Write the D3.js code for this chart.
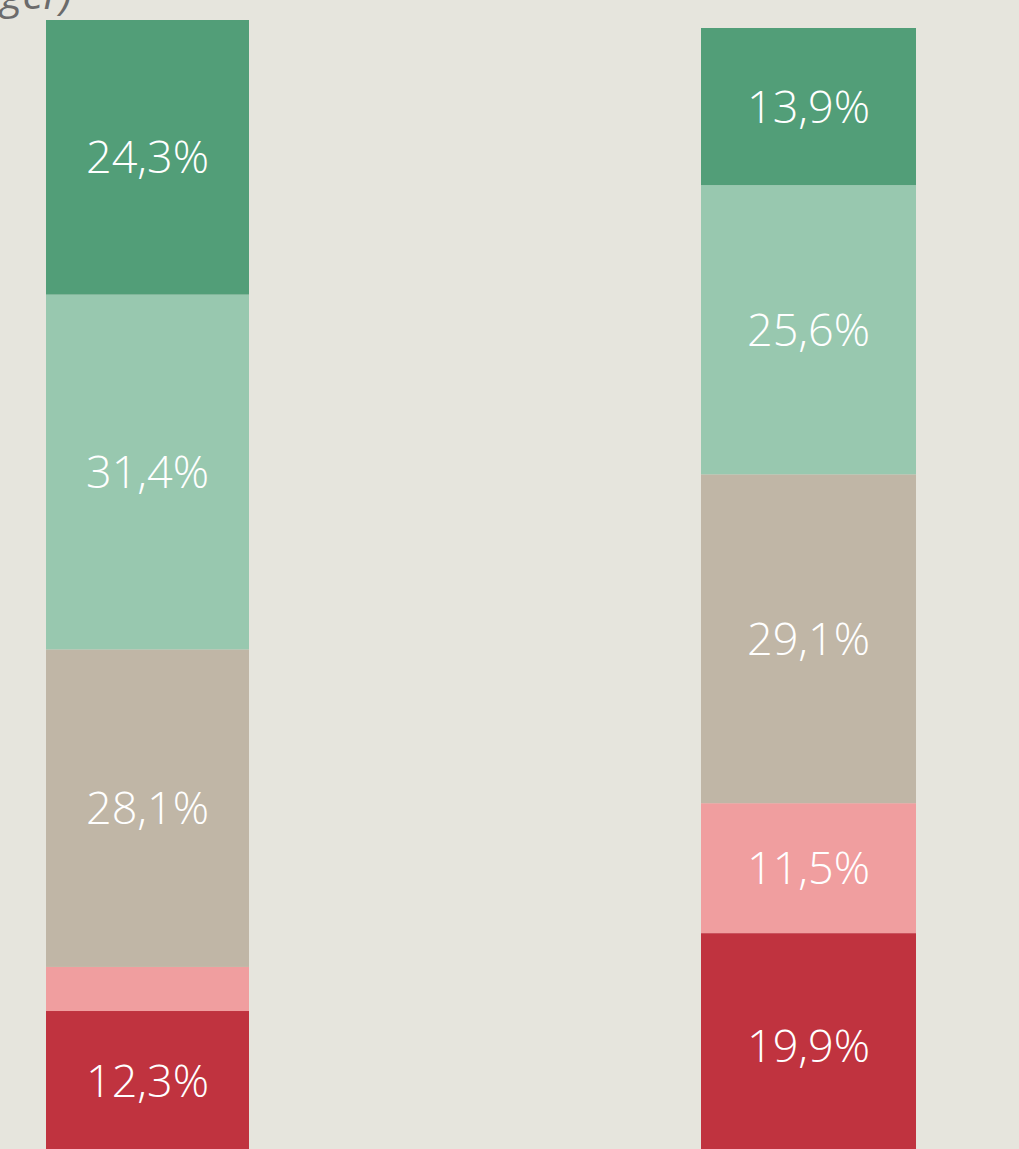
<!DOCTYPE html>
<html>
<head>
<meta charset="utf-8">
<script src="https://cdn.jsdelivr.net/npm/d3@7"></script>
<style>
  html, body { margin: 0; padding: 0; background: #e6e5dd; overflow: hidden; }
  svg { display: block; }
</style>
</head>
<body>
<svg width="1019" height="1149"></svg>
<script>
// data, bottom to top
var groups = ["A", "B"];
var segments = ["s1", "s2", "s3", "s4", "s5"];
var valuesA = [12.3, 3.9, 28.1, 31.4, 24.3];
var valuesB = [19.9, 11.5, 29.1, 25.6, 13.9];
var colors = ["#c0333f", "#f09e9f", "#c0b6a6", "#98c8af", "#529e78"];

var svg = d3.select("svg"),
    width = +svg.attr("width"),
    height = +svg.attr("height");

// subtitle fragment cut off at the top
svg.append("text")
    .attr("x", 72)
    .attr("y", 9)
    .attr("text-anchor", "end")
    .attr("font-family", "'Open Sans', sans-serif")
    .attr("font-style", "italic")
    .attr("font-size", 42)
    .attr("fill", "#6b6b6b")
    .text("ger)");

// each bar sits in its own panel
var bars = [
  { key: "A", values: valuesA, x0: 46, x1: 249, top: 20 },
  { key: "B", values: valuesB, x0: 701, x1: 916, top: 28 }
];

var h = d3.scaleLinear().domain([0, 100]).range([0, 1130]);
var fmt = function(v) { return d3.format(".1f")(v).replace(".", ",") + "%"; };

bars.forEach(function(b) {
  var y = d3.scaleLinear().domain([0, 100]).range([b.top + h(100), b.top]);
  var stacked = [], acc = 0;
  b.values.forEach(function(v, i) {
    stacked.push({ y0: acc, y1: acc + v, v: v, c: colors[i] });
    acc += v;
  });

  var g = svg.append("g");
  g.selectAll("rect")
    .data(stacked)
    .enter().append("rect")
      .attr("x", b.x0)
      .attr("width", b.x1 - b.x0)
      .attr("y", function(d) { return y(d.y1); })
      .attr("height", function(d) { return y(d.y0) - y(d.y1); })
      .attr("fill", function(d) { return d.c; });

  g.selectAll("text")
    .data(stacked.filter(function(d) { return d.v > 5; }))
    .enter().append("text")
      .attr("x", (b.x0 + b.x1) / 2)
      .attr("y", function(d) { return (y(d.y0) + y(d.y1)) / 2; })
      .attr("dy", "0.36em")
      .attr("text-anchor", "middle")
      .attr("font-family", "'Open Sans', sans-serif")
      .attr("font-weight", 300)
      .attr("font-size", 45)
      .attr("fill", "#ffffff")
      .text(function(d) { return fmt(d.v); });
});
</script>
</body>
</html>
